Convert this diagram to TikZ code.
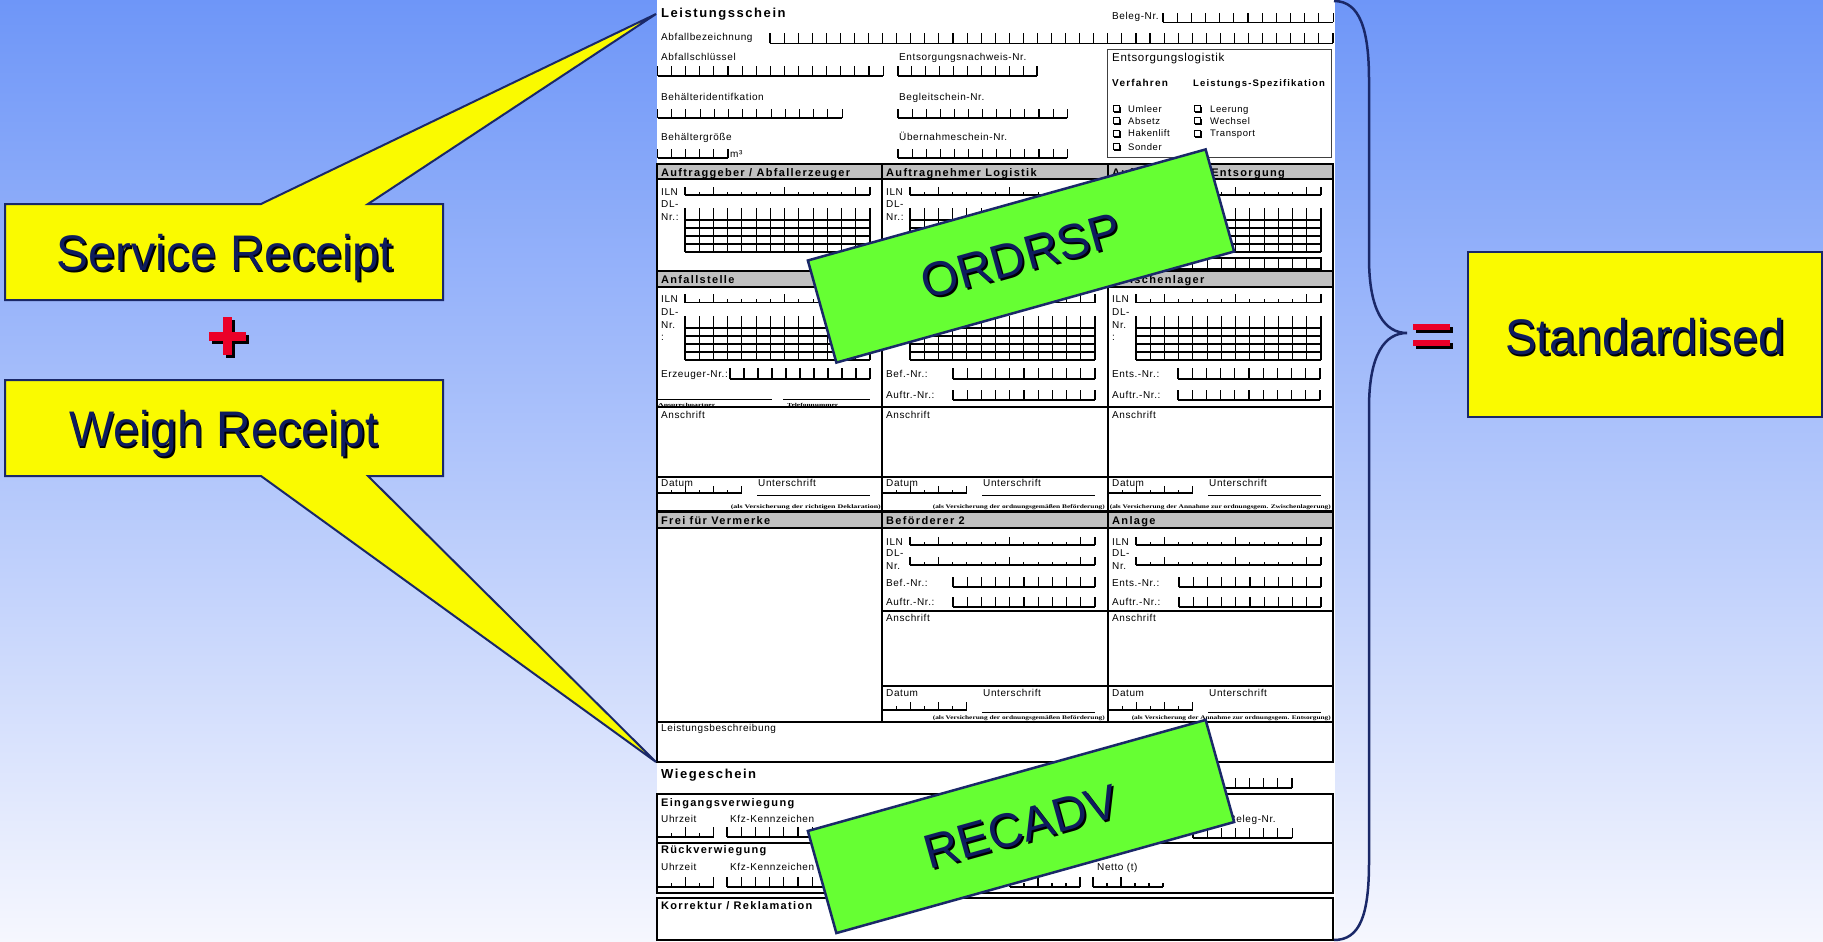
\documentclass[tikz,border=0pt]{standalone}
\usepackage{fontspec}
\usepackage{graphicx}
\setmainfont{Liberation Sans}
\newfontfamily\spc[LetterSpace=12]{Liberation Sans}
\newfontfamily\lsp[LetterSpace=6]{Liberation Sans}
\newfontfamily\serifx{Liberation Serif}
\definecolor{navy}{RGB}{14,28,94}
\definecolor{navyline}{RGB}{26,40,104}
\definecolor{yel}{RGB}{250,250,0}
\definecolor{grn}{RGB}{102,255,51}
\definecolor{redp}{RGB}{235,0,40}
\definecolor{hdrgray}{RGB}{192,192,192}
\definecolor{bgtop}{RGB}{110,150,248}
\definecolor{bgbot}{RGB}{246,247,254}

\newcommand\ucomb[5]{%
  \draw[cb] ({#1},{#2}) -- ++({#3*#4},0);
  \foreach \i in {0,...,#3}{\draw[cb] ({#1+\i*#4},{#2}) -- ++(0,-#5);}%
}
\newcommand\ilnC[2]{%
  \draw[cb] ({#1},{#2}) -- ++(185,0);
  \foreach \i in {0,2,7,12,13}{\draw[cb] ({#1+\i*185/13},{#2}) -- ++(0,-8.5);}%
  \foreach \i in {1,3,4,5,6,8,9,10,11}{\draw[cb] ({#1+\i*185/13},{#2}) -- ++(0,-3.5);}%
}
\newcommand\dlG[2]{%
  \foreach \i in {0,...,13}{\draw[cb] ({#1+\i*185/13},{#2}) -- ++(0,44);}%
  \foreach \j in {12,20,28,36,44}{\draw[cb] ({#1},{#2+\j}) -- ++(185,0);}%
}
\newcommand\pcomb[6]{%
  \draw[cb] ({#1},{#2}) -- ++({#3*14},0);
  \foreach \i in {#4}{\draw[cb] ({#1+\i*14},{#2}) -- ++(0,-#6);}%
  \foreach \i in {#5}{\draw[cb] ({#1+\i*14},{#2}) -- ++(0,{-0.45*#6});}%
}
\newcommand\chk[2]{%
  \draw[line width=0.8] ({#1},{#2-0.5}) rectangle ++(6.2,6.2);
  \draw[line width=1.6] ({#1+1.3},{#2+6.6}) -- ++(5.8,0) -- ++(0,-5.8);
}

\begin{document}
\begin{tikzpicture}[x=1pt,y=-1pt,
  cb/.style={line width=1.1},
  thk/.style={line width=2.3,line cap=rect},
  thn/.style={line width=1.3},
  lbl/.style={anchor=base west,inner sep=0,font=\lsp\fontsize{10}{12}\selectfont},
  lbs/.style={anchor=base west,inner sep=0,font=\lsp\fontsize{9.5}{11}\selectfont},
  hd/.style={anchor=base west,inner sep=0,font=\spc\bfseries\fontsize{11}{13}\selectfont},
  hdb/.style={anchor=base west,inner sep=0,font=\spc\bfseries\fontsize{13}{15}\selectfont},
  tiny/.style={anchor=base east,inner sep=0,font=\serifx\bfseries\fontsize{5.5}{6}\selectfont},
  tinyw/.style={anchor=base west,inner sep=0,font=\serifx\bfseries\fontsize{4.5}{5}\selectfont},
  callout/.style={fill=yel,draw=navyline,line width=2,line join=miter},
  bigt/.style={inner sep=0,font=\fontsize{50}{60}\selectfont,text=navy},
  bigs/.style={inner sep=0,font=\fontsize{50}{60}\selectfont,text=black},
  gt/.style={inner sep=0,font=\fontsize{48}{56}\selectfont,text=navy,rotate=15.6},
  gs/.style={inner sep=0,font=\fontsize{48}{56}\selectfont,text=black,rotate=15.6},
  greenbox/.style={rotate=15.6,draw=navyline,fill=grn,line width=2.5,minimum width=413,minimum height=106,inner sep=0},
]
\useasboundingbox (0,0) rectangle (1823,942);
\shade[top color=bgtop,bottom color=bgbot] (0,0) rectangle (1823,942);

% ---------------- form sheet
\fill[white] (657,0) rectangle (1335,942);

% top part: Leistungsschein
\node[hdb] (tls) at (661,17.5) {Leistungsschein};
\node[lbl] (tbn) at (1112,19.5) {Beleg-Nr.};
\ucomb{1163}{22.5}{12}{14.17}{9}
\node[lbl] (tab) at (661,40.5) {Abfallbezeichnung};
\ucomb{770}{43.5}{40}{14.075}{10}
\node[lbl] (tas) at (661,60) {Abfallschlüssel};
\ucomb{657.5}{76}{16}{14.1}{9.5}
\node[lbl] (ten) at (899,60) {Entsorgungsnachweis-Nr.};
\ucomb{898}{76}{10}{13.9}{9.5}
\node[lbl] (tbi) at (661,100) {Behälteridentifkation};
\ucomb{657.5}{118}{13}{14.2}{9.5}
\node[lbl] (tbs) at (899,100) {Begleitschein-Nr.};
\ucomb{898}{118}{12}{14.1}{9.5}
\node[lbl] (tbg) at (661,140) {Behältergröße};
\ucomb{657.5}{158}{5}{14.1}{9.5}
\node[lbl] (tm3) at (730,157) {m³};
\node[lbl] (tub) at (899,140) {Übernahmeschein-Nr.};
\ucomb{898}{158}{12}{14.1}{9.5}

% Entsorgungslogistik box
\draw[line width=0.8,black!75] (1107,49) rectangle (1331,157);
\node[lbl,font=\lsp\fontsize{11.5}{13}\selectfont] (tel) at (1112,62) {Entsorgungslogistik};
\node[hd,font=\spc\bfseries\fontsize{10}{12}\selectfont] (tvf) at (1112,86) {Verfahren};
\node[hd,font=\spc\bfseries\fontsize{9.5}{11}\selectfont] (tlsp) at (1193,86) {Leistungs-Spezifikation};
\chk{1113}{106}   \node[lbs] (c1) at (1128,112) {Umleer};
\chk{1113}{118}   \node[lbs] (c2) at (1128,124) {Absetz};
\chk{1113}{130.5} \node[lbs] (c3) at (1128,136.5) {Hakenlift};
\chk{1113}{144}   \node[lbs] (c4) at (1128,150) {Sonder};
\chk{1194}{106}   \node[lbs] (c5) at (1210,112) {Leerung};
\chk{1194}{118}   \node[lbs] (c6) at (1210,124) {Wechsel};
\chk{1194}{130.5} \node[lbs] (c7) at (1210,136.5) {Transport};

% table frame
\fill[hdrgray] (657,164) rectangle (1333,179);
\fill[hdrgray] (657,271) rectangle (1333,287);
\fill[hdrgray] (657,511.5) rectangle (1333,528);
\foreach \yy in {164,179,271,287,407,511.5,528,722,762} \draw[thk] (657,\yy) -- (1333,\yy);
\draw[thk] (657,164) -- (657,762);
\draw[thk] (1333,164) -- (1333,762);
\draw[thk] (882,164) -- (882,722);
\draw[thk] (1108,164) -- (1108,722);
\draw[thn] (657,477) -- (1333,477);
\draw[thn] (882,611) -- (1333,611);
\draw[thn] (882,686) -- (1333,686);

% headers
\node[hd] (h1) at (661,176) {Auftraggeber / Abfallerzeuger};
\node[hd] (h2) at (886,176) {Auftragnehmer Logistik};
\node[hd] (h3) at (1112,176) {Auftragnehmer Entsorgung};
\node[hd] (h4) at (661,283) {Anfallstelle};
\node[hd] (h6) at (1112,283) {Zwischenlager};
\node[hd] (h7) at (661,524.5) {Frei für Vermerke};
\node[hd] (h8) at (886,524.5) {Beförderer 2};
\node[hd] (h9) at (1112,524.5) {Anlage};

% row 1
\foreach \L in {657,882,1108} {\ilnC{\L+28}{195}\dlG{\L+28}{208}}
\draw[cb] (1136,258) rectangle (1321,269);
\foreach \i in {1,...,12} \draw[cb] ({1136+\i*185/13},258) -- ++(0,11);
\foreach \L in {657,882} {
  \node[lbl] (ra\L) at (\L+4,195) {ILN};
  \node[lbl] (rb\L) at (\L+4,207) {DL-};
  \node[lbl] (rc\L) at (\L+4,220) {Nr.:};
}

% row 2
\foreach \L in {657,882,1108} {\ilnC{\L+28}{302.5}\dlG{\L+28}{316}}
\foreach \L in {657,1108} {
  \node[lbl] (sa\L) at (\L+4,302) {ILN};
  \node[lbl] (sb\L) at (\L+4,315) {DL-};
  \node[lbl] (sc\L) at (\L+4,328) {Nr.};
  \node[lbl] (sd\L) at (\L+4,340) {:};
}
\node[lbl] (erz) at (661,377) {Erzeuger-Nr.:};
\ucomb{730}{379}{10}{14}{11}
\draw[line width=0.8] (657,399.5) -- (772,399.5);
\draw[line width=0.8] (783,399.5) -- (870,399.5);
\node[tinyw] (ansp) at (658,406.5) {\resizebox{57pt}{\height}{Ansprechpartner}};
\node[tinyw] (telf) at (787,406.5) {\resizebox{51pt}{\height}{Telefonnummer}};
\node[lbl] (bef1) at (886,377) {Bef.-Nr.:};
\ucomb{953}{379}{10}{14.2}{11}
\node[lbl] (auf1) at (886,398.5) {Auftr.-Nr.:};
\ucomb{953}{400}{10}{14.2}{10}
\node[lbl] (ents1) at (1112,377) {Ents.-Nr.:};
\ucomb{1178}{379}{10}{14.2}{11}
\node[lbl] (auf2) at (1112,398.5) {Auftr.-Nr.:};
\ucomb{1178}{400}{10}{14.2}{10}

% row 3 (Anschrift / Datum)
\foreach \L in {657,882,1108} {
  \node[lbl] (an\L) at (\L+4,418.5) {Anschrift};
  \node[lbl] (da\L) at (\L+4,486) {Datum};
  \node[lbl] (un\L) at (\L+101,486) {Unterschrift};
  \pcomb{\L+0.5}{493}{6}{0,2,4,6}{1,3,5}{7}
  \draw[line width=0.8] (\L+100,495) -- (\L+213,495);
}
\node[tiny] (d1) at (881,508.5) {\resizebox{150pt}{\height}{(als Versicherung der richtigen Deklaration)}};
\node[tiny] (d2) at (1105,508.5) {\resizebox{172pt}{\height}{(als Versicherung der ordnungsgemäßen Beförderung)}};
\node[tiny] (d3) at (1331,508.5) {\resizebox{221pt}{\height}{(als Versicherung der Annahme zur ordnungsgem. Zwischenlagerung)}};

% section 3
\foreach \L in {882,1108} {
  \node[lbl] (ia\L) at (\L+4,545) {ILN};
  \ilnC{\L+28}{545}
  \node[lbl] (ib\L) at (\L+4,556.5) {DL-};
  \node[lbl] (ic\L) at (\L+4,569) {Nr.};
  \ilnC{\L+28}{565}
  \node[lbl] (ie\L) at (\L+4,605) {Auftr.-Nr.:};
  \ucomb{\L+71}{587}{10}{14.2}{10}
  \ucomb{\L+71}{607}{10}{14.2}{10}
  \node[lbl] (ig\L) at (\L+4,621.5) {Anschrift};
  \node[lbl] (ih\L) at (\L+4,696) {Datum};
  \node[lbl] (ii\L) at (\L+101,696) {Unterschrift};
  \pcomb{\L+0.5}{710}{6}{0,2,4,6}{1,3,5}{8}
  \draw[line width=0.8] (\L+100,712) -- (\L+213,712);
}
\node[lbl] (befz) at (886,586) {Bef.-Nr.:};
\node[lbl] (entz) at (1112,586) {Ents.-Nr.:};
\node[tiny] (d4) at (1105,719) {\resizebox{172pt}{\height}{(als Versicherung der ordnungsgemäßen Beförderung)}};
\node[tiny] (d5) at (1331,719) {\resizebox{199pt}{\height}{(als Versicherung der Annahme zur ordnungsgem. Entsorgung)}};

\node[lbl] (lb) at (661,731) {Leistungsbeschreibung};

% Wiegeschein
\node[hdb] (ws) at (661,778) {Wiegeschein};
\ucomb{1150}{788}{10}{14.2}{10}
\draw[thk] (657,794) rectangle (1333,893);
\draw[thn] (657,843) -- (1333,843);
\node[hd] (ev) at (661,806) {Eingangsverwiegung};
\node[lbl] (uz1) at (661,822) {Uhrzeit};
\node[lbl] (kf1) at (730,822) {Kfz-Kennzeichen};
\pcomb{657.5}{837}{4}{0,2,4}{1,3}{10}
\ucomb{727}{837}{10}{14.2}{10}
\node[lbl] (bel2) at (1229,822) {Beleg-Nr.};
\ucomb{1193}{838}{7}{14.15}{10}
\node[hd] (rv) at (661,853) {Rückverwiegung};
\node[lbl] (uz2) at (661,870) {Uhrzeit};
\node[lbl] (kf2) at (730,870) {Kfz-Kennzeichen};
\pcomb{657.5}{887}{4}{0,2,4}{1,3}{10}
\ucomb{727}{887}{10}{14.2}{10}
\pcomb{1010}{887}{5}{0,2,5}{1,3,4}{10}
\node[lbl] (net) at (1097,870) {Netto (t)};
\pcomb{1093}{887}{5}{0,2}{1,3,4,5}{10}
\draw[thk] (657,898) rectangle (1333,940);
\node[hd] (kr) at (661,909) {Korrektur / Reklamation};

% ---------------- green stamps
\node[greenbox] (ordbox) at (1021,256) {};
\node[gs] (ordS) at ([shift={(2,2)}]ordbox.center) {ORDRSP};
\node[gt] (ord) at (ordbox.center) {ORDRSP};
\node[greenbox] (recbox) at (1021,826.5) {};
\node[gs] (recS) at ([shift={(2,2)}]recbox.center) {RECADV};
\node[gt] (rec) at (recbox.center) {RECADV};

% ---------------- callouts
\draw[callout] (5,204) -- (261,204) -- (656,14) -- (368,204) -- (443,204) -- (443,300) -- (5,300) -- cycle;
\node[bigs,anchor=base] (srS) at (226.5,272.5) {\scalebox{0.96}[1]{Service Receipt}};
\node[bigt,anchor=base] (sr) at (225,270.7) {\scalebox{0.96}[1]{Service Receipt}};

\draw[callout] (5,380) -- (443,380) -- (443,476) -- (368,476) -- (656,762) -- (261,476) -- (5,476) -- cycle;
\node[bigs,anchor=base] (wrS) at (225.5,448.5) {\scalebox{0.955}[1]{Weigh Receipt}};
\node[bigt,anchor=base] (wr) at (224,446.7) {\scalebox{0.955}[1]{Weigh Receipt}};

% plus
\fill[black] (212,334.5) rectangle (249,343.5);
\fill[black] (226,320) rectangle (235,358);
\fill[redp] (209,331.5) rectangle (246,340.5);
\fill[redp] (223,317) rectangle (232,355);

% brace
\draw[navyline,line width=2.5] (1334,1) .. controls (1360,1) and (1369,30) .. (1369,80) -- (1369,258) .. controls (1369,312) and (1385,333) .. (1407,333) .. controls (1385,333) and (1369,354) .. (1369,408) -- (1369,862) .. controls (1369,915) and (1360,940) .. (1334,940);

% equals
\fill[black] (1416,327) rectangle (1453,333);
\fill[black] (1416,343) rectangle (1453,349);
\fill[redp] (1413,324) rectangle (1450,330);
\fill[redp] (1413,340) rectangle (1450,346);

% Standardised
\draw[line width=2,draw=navyline,fill=yel] (1468,252) rectangle (1822,417);
\node[bigs,anchor=base] (stS) at (1646.5,356.2) {\scalebox{0.95}[1]{Standardised}};
\node[bigt,anchor=base] (st) at (1645,354.4) {\scalebox{0.95}[1]{Standardised}};
\end{tikzpicture}
\end{document}
